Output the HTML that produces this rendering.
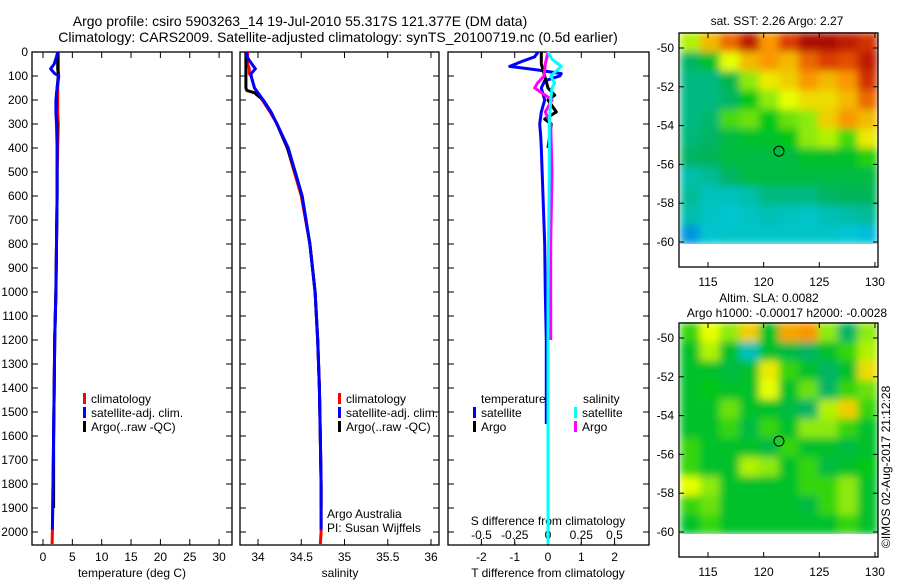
<!DOCTYPE html>
<html><head><meta charset="utf-8"><style>
html,body{margin:0;padding:0;background:#fff;}
svg{display:block;font-family:"Liberation Sans",sans-serif;}
</style></head><body>
<svg id="c" width="900" height="580" viewBox="0 0 900 580" xmlns="http://www.w3.org/2000/svg">
<text x="300" y="26" font-size="14" text-anchor="middle">Argo profile: csiro 5903263_14 19-Jul-2010 55.317S 121.377E (DM data)</text>
<text x="338" y="42" font-size="14" text-anchor="middle">Climatology: CARS2009. Satellite-adjusted climatology: synTS_20100719.nc (0.5d earlier)</text>
<g id="g"></g>
</svg>
<script>
// ---- data ----
const depthTicks=[0,100,200,300,400,500,600,700,800,900,1000,1100,1200,1300,1400,1500,1600,1700,1800,1900,2000];
const tempTicks=[0,5,10,15,20,25,30];
const salTicks=[34,34.5,35,35.5,36];
const salTickLabels=["34","34.5","35","35.5","36"];
const tdTicks=[-2,-1,0,1,2];
const sdTicks=[-0.5,-0.25,0,0.25,0.5];
const sdTickLabels=["-0.5","-0.25","0","0.25","0.5"];
const latTicks=[-50,-52,-54,-56,-58,-60];
const lonTicks=[115,120,125,130];

const climDepth=[0,20,50,70,90,100,150,200,250,300,400,500,600,800,1000,1200,1400,1600,1800,2000,2050];
const climTemp=[2.6,2.6,2.6,2.6,2.6,2.6,2.5,2.5,2.5,2.6,2.5,2.4,2.4,2.3,2.2,2.0,1.9,1.8,1.7,1.6,1.55];
const climSal=[33.88,33.88,33.88,33.9,33.9,33.92,33.96,34.05,34.14,34.22,34.34,34.42,34.5,34.6,34.66,34.69,34.71,34.72,34.73,34.73,34.72];
const satDepth=[0,20,50,70,90,100,150,200,250,300,400,500,600,800,1000,1200,1400,1600,1800,1990];
const satTemp=[2.5,2.3,1.9,1.3,2.0,2.7,2.4,2.2,2.2,2.3,2.4,2.4,2.4,2.3,2.2,2.0,1.9,1.8,1.7,1.6];
const satSal=[33.87,33.87,33.93,33.97,33.92,33.92,33.96,34.06,34.15,34.22,34.35,34.43,34.51,34.6,34.66,34.69,34.71,34.72,34.73,34.73];
const argoDepth=[0,20,50,70,90,100,150,160,170,200,250,300,400,500,600,800,1000,1200,1400,1600,1800,1900];
const argoTemp=[2.5,2.5,2.5,2.5,2.6,2.6,2.4,2.4,2.3,2.3,2.2,2.4,2.4,2.4,2.4,2.3,2.2,2.0,1.9,1.8,1.8,1.8];
const argoSal=[33.86,33.86,33.86,33.86,33.86,33.86,33.86,33.87,33.96,34.06,34.15,34.22,34.34,34.43,34.51,34.6,34.66,34.69,34.71,34.72,34.73,34.73];

const tdSatDepth=[0,20,40,60,75,90,100,120,150,200,250,300,350,400,600,800,1000,1200,1550];
const tdSat=[-0.3,-0.4,-0.8,-1.15,-0.3,0.4,0.35,-0.1,-0.2,-0.1,-0.2,-0.25,-0.22,-0.2,-0.15,-0.1,-0.08,-0.05,-0.05];
const tdArgoDepth=[0,50,100,150,180,200,250,280,300,400];
const tdArgo=[-0.2,-0.2,-0.1,0.0,0.2,0.0,0.25,-0.1,0.1,0.0];
const sdSatDepth=[0,30,60,80,100,130,150,200,300,500,1000,2050];
const sdSat=[0.0,0.03,0.1,0.06,0.02,0.05,0.03,0.02,0.01,0.01,0.0,0.0];
const sdArgoDepth=[0,50,100,130,150,180,200,250,300,500,800,1200];
const sdArgo=[0,-0.02,-0.03,-0.08,-0.1,-0.02,0.03,-0.02,0.02,0.03,0.02,0.02];

const sstGrid=[
[.62,.75,.85,.95,.8,.9,.98,.98,.95,.92],
[.45,.5,.65,.75,.8,.75,.85,.9,.88,.95],
[.42,.42,.47,.6,.68,.72,.8,.75,.8,.92],
[.42,.42,.45,.52,.6,.65,.7,.7,.75,.85],
[.42,.44,.56,.58,.52,.58,.6,.72,.8,.75],
[.43,.45,.48,.5,.5,.52,.6,.62,.56,.68],
[.45,.46,.48,.48,.48,.48,.5,.5,.5,.54],
[.38,.4,.45,.48,.48,.48,.48,.48,.48,.48],
[.4,.34,.34,.38,.42,.42,.42,.45,.46,.46],
[.38,.33,.3,.33,.36,.34,.32,.36,.38,.4],
[.18,.3,.32,.32,.32,.32,.32,.32,.3,.26]];
const slaGrid=[
[.55,.65,.6,.72,.5,.78,.8,.6,.45,.6],
[.5,.62,.5,.35,.5,.48,.45,.5,.55,.62],
[.5,.5,.48,.5,.68,.55,.5,.45,.5,.7],
[.5,.52,.5,.5,.65,.5,.58,.45,.55,.58],
[.5,.5,.58,.5,.5,.48,.45,.62,.72,.55],
[.5,.5,.55,.48,.55,.5,.6,.6,.55,.5],
[.55,.5,.5,.5,.48,.55,.5,.5,.48,.5],
[.55,.5,.5,.62,.6,.5,.55,.48,.5,.52],
[.65,.6,.5,.5,.5,.5,.55,.55,.6,.5],
[.55,.58,.5,.5,.5,.5,.48,.55,.6,.5],
[.5,.55,.5,.5,.5,.5,.5,.5,.55,.5]];
const argoLon=121.377, argoLat=-55.317;

// ---- helpers ----
const NS="http://www.w3.org/2000/svg";
const G=document.getElementById('g');
function mk(tag,attrs,parent){const e=document.createElementNS(NS,tag);for(const k in attrs)e.setAttribute(k,attrs[k]);(parent||G).appendChild(e);return e;}
function txt(x,y,s,size,anchor,name){const t=mk('text',{x:x,y:y,'font-size':size,'text-anchor':anchor||'start'});t.textContent=s;


return t;}
const yD=d=>52+d*0.24;
const pTop=52,pBot=545;
function frame(x0,x1,name){const r=mk('rect',{x:x0,y:pTop,width:x1-x0,height:pBot-pTop,fill:'none',stroke:'#000','stroke-width':1.3});


depthTicks.forEach(d=>{mk('line',{x1:x0,x2:x0+6,y1:yD(d),y2:yD(d),stroke:'#000'});mk('line',{x1:x1,x2:x1-6,y1:yD(d),y2:yD(d),stroke:'#000'});});}
function line(xs,ds,fx,color,w,name){const p=xs.map((v,i)=>fx(v).toFixed(1)+','+yD(ds[i]).toFixed(1)).join(' ');
const e=mk('polyline',{points:p,fill:'none',stroke:color,'stroke-width':w,'stroke-linejoin':'round'});

}
function legend(x,y,color,label,name){mk('rect',{x:x,y:y-6,width:3,height:11,fill:color});txt(x+8,y+4,label,12,'start',name);}

// panel 1 temperature
const xT=v=>43+v*5.87;
frame(32,232,'temperature-panel');
depthTicks.forEach(d=>txt(28,yD(d)+4,String(d),12,'end','depth-tick-label'));
tempTicks.forEach(v=>{mk('line',{x1:xT(v),x2:xT(v),y1:pBot,y2:pBot-6,stroke:'#000'});mk('line',{x1:xT(v),x2:xT(v),y1:pTop,y2:pTop+6,stroke:'#000'});txt(xT(v),561,String(v),12,'middle','temp-tick-label');});
txt(132,577,'temperature (deg C)',12,'middle','temperature-axis-title');
line(climTemp,climDepth,xT,'#f00',3,'temp-climatology-line');
line(argoTemp,argoDepth,xT,'#000',3,'temp-argo-line');
line(satTemp,satDepth,xT,'#00f',3,'temp-satellite-line');
legend(83,399,'#f00','climatology','legend-climatology');
legend(83,413,'#00f','satellite-adj. clim.','legend-satellite');
legend(83,427,'#000','Argo(..raw -QC)','legend-argo');

// panel 2 salinity
const xS=v=>258+(v-34)*86.5;
frame(240,439,'salinity-panel');
salTicks.forEach((v,i)=>{mk('line',{x1:xS(v),x2:xS(v),y1:pBot,y2:pBot-6,stroke:'#000'});mk('line',{x1:xS(v),x2:xS(v),y1:pTop,y2:pTop+6,stroke:'#000'});txt(xS(v),561,salTickLabels[i],12,'middle','salinity-tick-label');});
txt(340,577,'salinity',12,'middle','salinity-axis-title');
line(climSal,climDepth,xS,'#f00',3,'sal-climatology-line');
line(argoSal,argoDepth,xS,'#000',3,'sal-argo-line');
line(satSal,satDepth,xS,'#00f',3,'sal-satellite-line');
legend(338,399,'#f00','climatology','legend2-climatology');
legend(338,413,'#00f','satellite-adj. clim.','legend2-satellite');
legend(338,427,'#000','Argo(..raw -QC)','legend2-argo');
txt(327,518,'Argo Australia',12,'start','credit-argo-australia');
txt(327,532,'PI: Susan Wijffels',12,'start','credit-pi');

// panel 3 differences
const xTd=v=>548+v*33.3, xSd=v=>548+v*133;
frame(448,649,'difference-panel');
tdTicks.forEach(v=>{mk('line',{x1:xTd(v),x2:xTd(v),y1:pBot,y2:pBot-6,stroke:'#000'});mk('line',{x1:xTd(v),x2:xTd(v),y1:pTop,y2:pTop+6,stroke:'#000'});txt(xTd(v),561,String(v),12,'middle','tdiff-tick-label');});
sdTicks.forEach((v,i)=>{txt(xSd(v),539,sdTickLabels[i],12,'middle','sdiff-tick-label');mk('line',{x1:xSd(v),x2:xSd(v),y1:542,y2:545,stroke:'#000'});});
txt(548,525,'S difference from climatology',12,'middle','sdiff-axis-title');
txt(548,577,'T difference from climatology',12,'middle','tdiff-axis-title');
line(tdSat,tdSatDepth,xTd,'#00f',3,'tdiff-satellite-line');
line(tdArgo,tdArgoDepth,xTd,'#000',3,'tdiff-argo-line');
line(sdArgo,sdArgoDepth,xSd,'#f0f',3,'sdiff-argo-line');
line(sdSat,sdSatDepth,xSd,'#0ff',3,'sdiff-satellite-line');
txt(481,403,'temperature',12,'start','legend3-temperature-header');
txt(583,403,'salinity',12,'start','legend3-salinity-header');
legend(473,413,'#00f','satellite','legend3-t-satellite');
legend(473,427,'#000','Argo','legend3-t-argo');
legend(574,413,'#0ff','satellite','legend3-s-satellite');
legend(574,427,'#f0f','Argo','legend3-s-argo');

// maps
function jet(v){const stops=[[0,[0,60,220]],[0.28,[0,200,220]],[0.38,[0,190,170]],[0.46,[0,180,90]],[0.52,[0,200,20]],[0.65,[230,255,0]],[0.8,[250,150,0]],[0.9,[220,60,0]],[1,[160,0,0]]];
for(let i=1;i<stops.length;i++){if(v<=stops[i][0]){const a=stops[i-1],b=stops[i],t=(v-a[0])/(b[0]-a[0]);return 'rgb('+a[1].map((c,k)=>Math.round(c+(b[1][k]-c)*t)).join(',')+')';}}return 'rgb(160,0,0)';}
function map(y0,grid,name){
  const lon0=112.5,lon1=130.2,latTop=-49.2,latBot=-60.1;
  const xL=l=>708+(l-115)*11.13, yL=la=>y0+15+(-50-la)*19.4;
  const xMin=679,xMax=878,yMin=y0,yMax=y0+234;
  const rows=grid.length,cols=grid[0].length;
  const gx0=xL(lon0),gy0=yL(latTop),gw=xL(lon1)-gx0,gh=yL(latBot)-gy0;
  const cw=gw/cols, ch=gh/rows;
  const defs=mk('defs',{});
  const f=mk('filter',{id:'bl'+y0,filterUnits:'userSpaceOnUse',x:gx0,y:gy0,width:gw,height:gh},defs);
  mk('feGaussianBlur',{stdDeviation:4,edgeMode:'duplicate'},f);
  const gg=mk('g',{filter:'url(#bl'+y0+')'});
  
  
  grid.forEach((row,r)=>row.forEach((v,c)=>{mk('rect',{x:(gx0+c*cw).toFixed(1),y:(gy0+r*ch).toFixed(1),width:(cw+0.6).toFixed(1),height:(ch+0.6).toFixed(1),fill:jet(v)},gg);}));
  const fr=mk('rect',{x:xMin,y:yMin,width:xMax-xMin,height:yMax-yMin,fill:'none',stroke:'#000','stroke-width':1.3});
  
  
  latTicks.forEach(la=>{mk('line',{x1:xMin,x2:xMin+5,y1:yL(la),y2:yL(la),stroke:'#000'});mk('line',{x1:xMax,x2:xMax-5,y1:yL(la),y2:yL(la),stroke:'#000'});txt(674,yL(la)+4,String(la),12,'end','lat-tick-label');});
  lonTicks.forEach(l=>{mk('line',{x1:xL(l),x2:xL(l),y1:yMax,y2:yMax-5,stroke:'#000'});mk('line',{x1:xL(l),x2:xL(l),y1:yMin,y2:yMin+5,stroke:'#000'});txt(xL(l),yMax+19,String(l),12,'middle','lon-tick-label');});
  const m=mk('circle',{cx:xL(argoLon),cy:yL(argoLat),r:5,fill:'none',stroke:'#000','stroke-width':1});
  
  
}
map(33,sstGrid,'sst-map');
txt(777,25,'sat. SST: 2.26 Argo: 2.27',12,'middle','sst-map-title');
map(323,slaGrid,'sla-map');
txt(769,302,'Altim. SLA: 0.0082',12,'middle','sla-map-title');
txt(787,317,'Argo h1000: -0.00017 h2000: -0.0028',12,'middle','sla-map-subtitle');
const st=txt(0,0,'\u00a9IMOS 02-Aug-2017 21:12:28',12,'start','timestamp');
st.setAttribute('transform','translate(890,548) rotate(-90)');
</script>
</body></html>
